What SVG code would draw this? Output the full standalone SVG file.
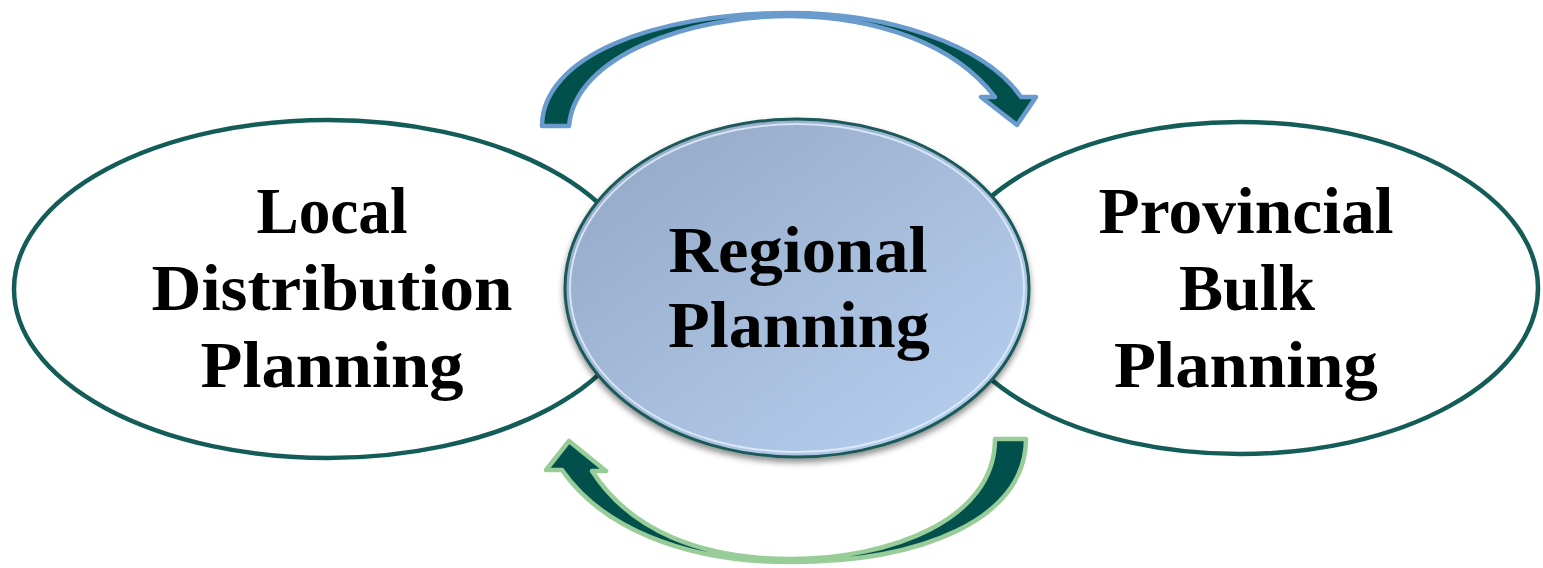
<svg xmlns="http://www.w3.org/2000/svg" width="1543" height="568" viewBox="0 0 1543 568">
  <defs>
    <linearGradient id="centerFill" x1="0" y1="0" x2="1" y2="1">
      <stop offset="0" stop-color="#92a6c4"/>
      <stop offset="1" stop-color="#b9d2f2"/>
    </linearGradient>
    <filter id="shadow" x="-10%" y="-10%" width="120%" height="125%">
      <feDropShadow dx="0" dy="4" stdDeviation="3" flood-color="#000" flood-opacity="0.45"/>
    </filter>
  </defs>
  <style>
    .outer { fill: #ffffff; stroke: #145c57; stroke-width: 4.5; }
    .label { font-family: "Liberation Serif", "Times New Roman", serif; font-weight: bold; font-size: 65px; fill: #000; text-anchor: middle; }
    .arrow { fill: #01504c; stroke-width: 4.5; stroke-linejoin: round; }
  </style>

  <g id="node-local">
    <ellipse class="outer" cx="328" cy="289" rx="314" ry="169"/>
    <text class="label" x="332" y="233" textLength="151" lengthAdjust="spacingAndGlyphs">Local</text>
    <text class="label" x="332" y="310" textLength="361" lengthAdjust="spacingAndGlyphs">Distribution</text>
    <text class="label" x="332" y="387" textLength="263" lengthAdjust="spacingAndGlyphs">Planning</text>
  </g>

  <g id="node-provincial">
    <ellipse class="outer" cx="1240" cy="288" rx="298" ry="166"/>
    <text class="label" x="1246" y="233" textLength="295" lengthAdjust="spacingAndGlyphs">Provincial</text>
    <text class="label" x="1247" y="310" textLength="136" lengthAdjust="spacingAndGlyphs">Bulk</text>
    <text class="label" x="1246" y="387" textLength="264" lengthAdjust="spacingAndGlyphs">Planning</text>
  </g>

  <g id="node-regional">
    <ellipse cx="797" cy="288" rx="232" ry="169" fill="url(#centerFill)" stroke="#1b5a58" stroke-width="3" filter="url(#shadow)"/>
    <ellipse cx="797" cy="288" rx="227" ry="164" fill="none" stroke="#e8f4ff" stroke-width="2" opacity="0.75"/>
    <text class="label" x="798" y="272" textLength="259" lengthAdjust="spacingAndGlyphs">Regional</text>
    <text class="label" x="799" y="347" textLength="262" lengthAdjust="spacingAndGlyphs">Planning</text>
  </g>

  <g id="connectors">
    <path class="arrow" stroke="#6a9bcd" d="M 542,126 C 542,58 650,13 790,13 C 890,13 985,45 1021,97 L 1036,97 L 1017,125 L 981,97 L 995,97 C 955,45 880,17 790,16 C 690,16 575,55 569,126 Z"/>
    <path class="arrow" stroke="#98cc98" d="M 1026,439 C 1026,520 920,562 790,562 C 680,562 600,525 562,470 L 546,470 L 569,441 L 606,471 L 592,471 C 630,530 700,559 790,559 C 890,559 995,520 995,439 Z"/>
  </g>
</svg>
